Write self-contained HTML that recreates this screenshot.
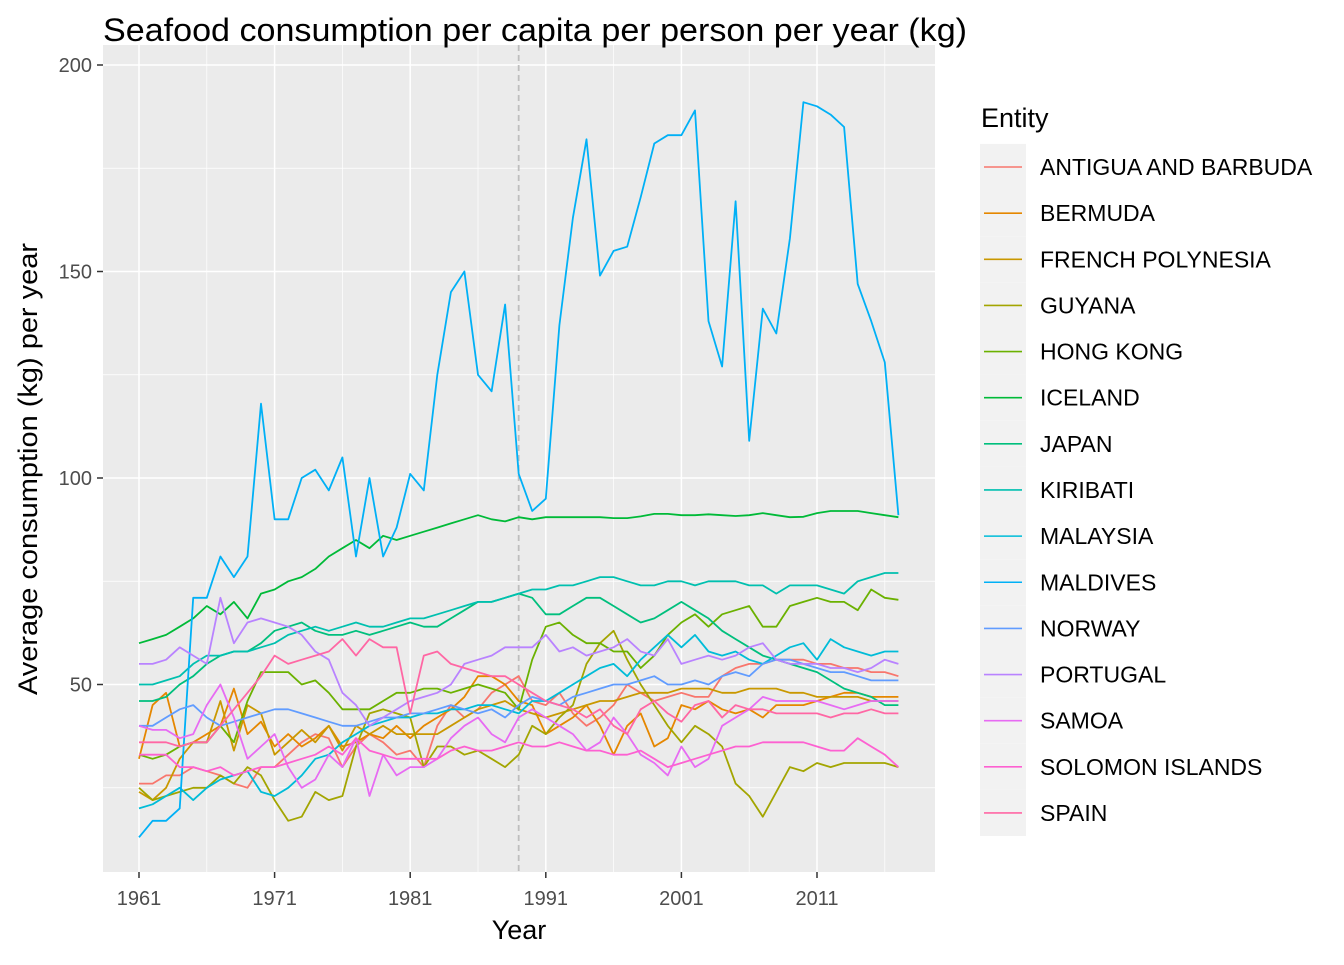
<!DOCTYPE html>
<html><head><meta charset="utf-8"><style>
body{margin:0;background:#fff;font-family:"Liberation Sans",Arial,sans-serif}
</style></head><body>
<svg id="c" width="1344" height="960" xmlns="http://www.w3.org/2000/svg" font-family="Liberation Sans, Arial, sans-serif"></svg>
<script>
const years=[];for(let y=1961;y<=2017;y++)years.push(y);
const entities=["ANTIGUA AND BARBUDA","BERMUDA","FRENCH POLYNESIA","GUYANA","HONG KONG","ICELAND","JAPAN","KIRIBATI","MALAYSIA","MALDIVES","NORWAY","PORTUGAL","SAMOA","SOLOMON ISLANDS","SPAIN"];
const colors=["#F8766D","#E58700","#C99800","#A3A500","#6BB100","#00BA38","#00BF7D","#00C0AF","#00BCD8","#00B0F6","#619CFF","#B983FF","#E76BF3","#FD61D1","#FF67A4"];
const yTicks=[50,100,150,200];
const xTicks=[1961,1971,1981,1991,2001,2011];
const antigua=[26,26,28,28,30,29,28,26,25,30,30,33,36,38,37,30,35,38,36,33,34,30,40,45,42,44,48,50,52,46,45,48,43,40,42,45,50,48,46,47,48,47,47,52,54,55,55,56,56,56,55,55,54,54,53,53,52];
const bermuda=[32,45,48,35,36,38,40,49,38,41,35,38,35,37,40,35,36,38,37,40,37,40,42,44,47,52,52,50,46,45,38,40,42,45,40,33,40,43,35,37,45,44,46,44,43,44,42,45,45,45,46,47,48,48,47,47,47];
const frenchPolynesia=[24,22,25,32,36,36,46,34,45,43,33,36,39,36,40,34,40,38,40,38,38,38,38,40,42,44,45,46,44,43,42,43,44,45,46,46,47,48,48,48,49,49,49,48,48,49,49,49,48,48,47,47,47,47,46,46,46];
const guyana=[25,22,23,24,25,25,28,26,30,28,22,17,18,24,22,23,35,43,44,43,42,30,35,35,33,34,32,30,33,40,38,42,45,55,60,63,56,50,45,40,36,40,38,35,26,23,18,24,30,29,31,30,31,31,31,31,30];
const hongKong=[33,32,33,35,36,36,40,36,46,53,53,53,50,51,48,44,44,44,46,48,48,49,49,48,49,50,49,48,44,56,64,65,62,60,60,58,58,54,57,62,65,67,64,67,68,69,64,64,69,70,71,70,70,68,73,71,70.5];
const iceland=[60,61,62,64,66,69,67,70,66,72,73,75,76,78,81,83,85,83,86,85,86,87,88,89,90,91,90,89.5,90.5,90,90.5,90.5,90.5,90.5,90.5,90.3,90.3,90.7,91.3,91.3,91,91,91.2,91,90.8,91,91.5,91,90.5,90.6,91.5,92,92,92,91.5,91,90.5];
const japan=[46,46,47,50,52,55,57,58,58,60,63,64,65,63,62,62,63,62,63,64,65,64,64,66,68,70,70,71,72,71,67,67,69,71,71,69,67,65,66,68,70,68,66,63,61,59,57,56,55,54,53,51,49,48,47,45,45];
const kiribati=[50,50,51,52,55,57,57,58,58,59,60,62,63,64,63,64,65,64,64,65,66,66,67,68,69,70,70,71,72,73,73,74,74,75,76,76,75,74,74,75,75,74,75,75,75,74,74,72,74,74,74,73,72,75,76,77,77];
const malaysia=[20,21,23,25,22,25,27,28,29,24,23,25,28,32,33,36,38,40,41,42,42,43,43,44,44,45,45,44,43,46,46,48,50,52,54,55,52,56,59,62,59,62,58,57,58,56,55,57,59,60,56,61,59,58,57,58,58];
const maldives=[13,17,17,20,71,71,81,76,81,118,90,90,100,102,97,105,81,100,81,88,101,97,125,145,150,125,121,142,101,92,95,137,163,182,149,155,156,168,181,183,183,189,138,127,167,109,141,135,158,191,190,188,185,147,138,128,91];
const norway=[40,40,42,44,45,42,40,41,42,43,44,44,43,42,41,40,40,41,42,42,43,43,44,45,44,43,44,42,45,47,46,45,47,48,49,50,50,51,52,50,50,51,50,52,53,52,55,56,56,55,54,53,53,52,51,51,51];
const portugal=[55,55,56,59,57,55,71,60,65,66,65,64,62,58,56,48,45,40,42,44,46,47,48,50,55,56,57,59,59,59,62,58,59,57,58,59,61,58,57,61,55,56,57,56,57,59,60,56,55,55,55,54,54,53,54,56,55];
const samoa=[40,39,39,37,38,45,50,42,32,35,38,30,25,27,33,30,37,23,33,28,30,30,32,37,40,42,38,36,42,44,42,40,38,34,36,42,38,33,31,28,35,30,32,40,42,44,47,46,46,46,46,45,44,45,46,46,46];
const solomon=[33,33,33,30,30,29,30,28,29,30,30,31,32,33,35,33,37,34,33,32,32,32,32,34,35,34,34,35,36,35,35,36,35,34,34,33,33,34,32,30,31,32,33,34,35,35,36,36,36,36,35,34,34,37,35,33,30];
const spain=[36,36,36,35,36,36,40,44,48,52,57,55,56,57,58,61,57,61,59,59,43,57,58,55,54,53,52,52,50,48,46,45,44,42,44,40,38,44,46,43,41,45,46,42,45,44,44,43,43,43,43,42,43,43,44,43,43];
const series=[antigua,bermuda,frenchPolynesia,guyana,hongKong,iceland,japan,kiribati,malaysia,maldives,norway,portugal,samoa,solomon,spain];
const refYear=1989;

const PL=103,PR=935,PT=45,PB=872;
const xs=y=>139+(y-1961)*(678/50);
const ys=v=>891-v*4.13;
const svg=document.getElementById('c');const NS='http://www.w3.org/2000/svg';
function mk(t,a,p){const e=document.createElementNS(NS,t);for(const k in a)e.setAttribute(k,a[k]);(p||svg).appendChild(e);return e;}
const panel=mk('rect',{x:PL,y:PT,width:PR-PL,height:PB-PT,fill:'#EBEBEB'});

const grid=mk('g',{});
[25,75,125,175].forEach(v=>mk('line',{x1:PL,x2:PR,y1:ys(v),y2:ys(v),stroke:'#fff','stroke-width':0.7},grid));
[1966,1976,1986,1996,2006,2016].forEach(v=>mk('line',{x1:xs(v),x2:xs(v),y1:PT,y2:PB,stroke:'#fff','stroke-width':0.7},grid));
yTicks.forEach(v=>mk('line',{x1:PL,x2:PR,y1:ys(v),y2:ys(v),stroke:'#fff','stroke-width':1.5},grid));
xTicks.forEach(v=>mk('line',{x1:xs(v),x2:xs(v),y1:PT,y2:PB,stroke:'#fff','stroke-width':1.5},grid));
const rl=mk('line',{x1:xs(refYear),x2:xs(refYear),y1:PT,y2:PB,stroke:'#BEBEBE','stroke-width':1.8,'stroke-dasharray':'6,4'});

series.forEach((s,i)=>{
 const d=s.map((v,j)=>(j?'L':'M')+xs(years[j]).toFixed(1)+','+ys(v).toFixed(1)).join('');
 const p=mk('path',{d:d,fill:'none',stroke:colors[i],'stroke-width':1.8,'stroke-linejoin':'round'});
 
 
});
const ax=mk('g',{});
yTicks.forEach(v=>{mk('line',{x1:PL-6,x2:PL,y1:ys(v),y2:ys(v),stroke:'#333','stroke-width':1.5},ax);
 const t=mk('text',{x:PL-11,y:ys(v)+7,'text-anchor':'end','font-size':20,fill:'#4D4D4D'},ax);t.textContent=v;
 });
xTicks.forEach(v=>{mk('line',{x1:xs(v),x2:xs(v),y1:PB,y2:PB+6,stroke:'#333','stroke-width':1.5},ax);
 const t=mk('text',{x:xs(v),y:PB+33,'text-anchor':'middle','font-size':20,fill:'#4D4D4D'},ax);t.textContent=v;
 });
let t=mk('text',{x:519,y:939,'text-anchor':'middle','font-size':27,fill:'#000'});t.textContent='Year';

t=mk('text',{x:37,y:469,'text-anchor':'middle','font-size':27,fill:'#000',textLength:452,lengthAdjust:'spacingAndGlyphs',transform:'rotate(-90 37 469)'});t.textContent='Average consumption (kg) per year';

t=mk('text',{x:103,y:41,'font-size':32,fill:'#000',textLength:864,lengthAdjust:'spacingAndGlyphs'});t.textContent='Seafood consumption per capita per person per year (kg)';

const lg=mk('g',{});
t=mk('text',{x:981,y:127,'font-size':27,fill:'#000'},lg);t.textContent='Entity';

entities.forEach((n,i)=>{const cy=167+i*46.14;
 const g=mk('g',{},lg);
 mk('rect',{x:980,y:cy-23.07,width:46,height:46.14,fill:'#F2F2F2'},g);
 mk('line',{x1:984,x2:1022,y1:cy,y2:cy,stroke:colors[i],'stroke-width':1.6},g);
 const tt=mk('text',{x:1040,y:cy+8,'font-size':23,fill:'#000'},g);tt.textContent=n;});
</script>
</body></html>
